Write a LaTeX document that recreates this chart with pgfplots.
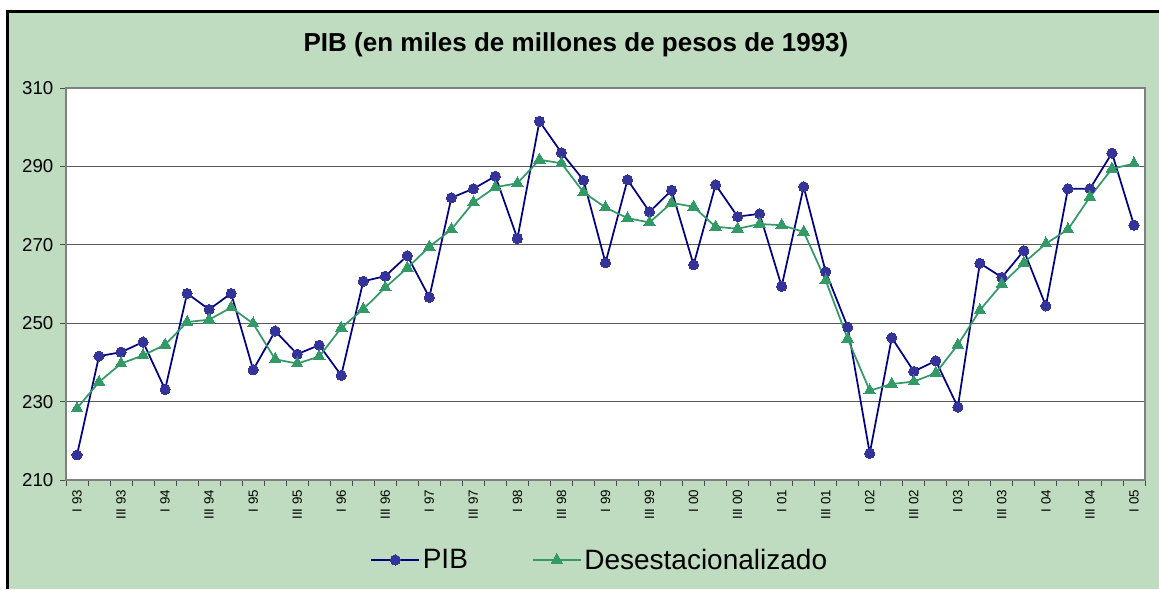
\documentclass[border=0pt]{standalone}
\usepackage{pgfplots}
\pgfplotsset{compat=1.18}
\usepackage{fontspec}
\setmainfont{Liberation Sans}
\definecolor{bgg}{HTML}{C0DCC0}
\definecolor{pib}{HTML}{000080}
\definecolor{pibm}{HTML}{333399}
\definecolor{des}{HTML}{339966}
\definecolor{gridc}{HTML}{808080}
\begin{document}
\begin{tikzpicture}[x=0.75pt,y=0.75pt]
\useasboundingbox (0,0) rectangle (1159,589);
\fill[white] (0,0) rectangle (1159,589);
\fill[bgg] (7.7,0) rectangle (1159,577.7);
\draw[black,line width=2.4pt] (7.7,0) -- (7.7,577.7) -- (1159,577.7);
\node[font=\bfseries\fontsize{19.5pt}{22pt}\selectfont] at (576,544) {PIB (en miles de millones de pesos de 1993)};
\coordinate (A) at (66,109);
\begin{axis}[
  at={(A)}, anchor=south west,
  scale only axis, width=809.25pt, height=294pt,
  xmin=-0.5, xmax=48.5, ymin=210, ymax=310,
  axis background/.style={fill=white},
  axis line style={gridc, line width=0.8pt},
  ytick={210,230,...,310},
  minor ytick={210,230,...,310},
  ymajorgrids, grid style={draw=black!65, line width=0.8pt},
  xtick={0,2,...,48},
  xticklabels={I 93,III 93,I 94,III 94,I 95,III 95,I 96,III 96,I 97,III 97,I 98,III 98,I 99,III 99,I 00,III 00,I 01,III 01,I 02,III 02,I 03,III 03,I 04,III 04,I 05},
  minor xtick={-0.5,0.5,...,48.5},
  tick align=outside, tick pos=left,
  major tick length=0pt, minor tick length=4.5pt,
  every tick/.style={black!70, line width=0.7pt},
  /pgf/number format/assume math mode=true,
  yticklabel style={font=\fontsize{14pt}{16pt}\selectfont, xshift=-6pt},
  xticklabel style={font=\fontsize{10pt}{12pt}\selectfont, rotate=90, anchor=east, xshift=-4pt},
  legend style={at={(0.495,-0.204)}, anchor=center, draw=none, fill=none,
    font=\fontsize{21pt}{23pt}\selectfont, legend columns=2,
    /tikz/every even column/.append style={column sep=46pt},
    inner xsep=0pt},
  legend image code/.code={\draw[#1,mark repeat=2,mark phase=2] plot coordinates {(0pt,0pt) (18pt,0pt) (36pt,0pt)};},
]
\addplot[color=pib, line width=1.3pt, mark=*, mark size=3.8pt, mark options={fill=pibm, draw=pibm, line width=0pt}] coordinates {
(0,216.4)(1,241.6)(2,242.6)(3,245.2)(4,233.1)(5,257.6)(6,253.5)(7,257.6)(8,238.1)(9,248.0)
(10,242.1)(11,244.4)(12,236.7)(13,260.7)(14,262.0)(15,267.2)(16,256.6)(17,282.0)(18,284.3)(19,287.5)
(20,271.6)(21,301.5)(22,293.5)(23,286.5)(24,265.4)(25,286.6)(26,278.4)(27,283.9)(28,264.9)(29,285.3)
(30,277.2)(31,277.9)(32,259.4)(33,284.8)(34,263.1)(35,249.0)(36,216.8)(37,246.3)(38,237.7)(39,240.4)
(40,228.6)(41,265.3)(42,261.7)(43,268.5)(44,254.4)(45,284.3)(46,284.3)(47,293.4)(48,275.0)};
\addlegendentry{PIB}
\addplot[color=des, line width=1.3pt, mark=triangle*, mark size=5pt, mark options={fill=des, draw=des, line width=0pt}] coordinates {
(0,228.3)(1,235.0)(2,239.7)(3,241.8)(4,244.5)(5,250.3)(6,250.9)(7,254.0)(8,249.9)(9,240.8)
(10,239.7)(11,241.5)(12,248.8)(13,253.6)(14,259.1)(15,264.1)(16,269.5)(17,273.9)(18,280.8)(19,284.7)
(20,285.7)(21,291.7)(22,290.8)(23,283.4)(24,279.5)(25,276.8)(26,275.7)(27,280.7)(28,279.7)(29,274.6)
(30,274.1)(31,275.3)(32,275.0)(33,273.3)(34,260.9)(35,246.0)(36,232.8)(37,234.5)(38,235.1)(39,237.3)
(40,244.5)(41,253.3)(42,260.0)(43,265.4)(44,270.3)(45,273.9)(46,282.2)(47,289.4)(48,290.7)};
\addlegendentry{Desestacionalizado}
\end{axis}
\end{tikzpicture}
\end{document}
